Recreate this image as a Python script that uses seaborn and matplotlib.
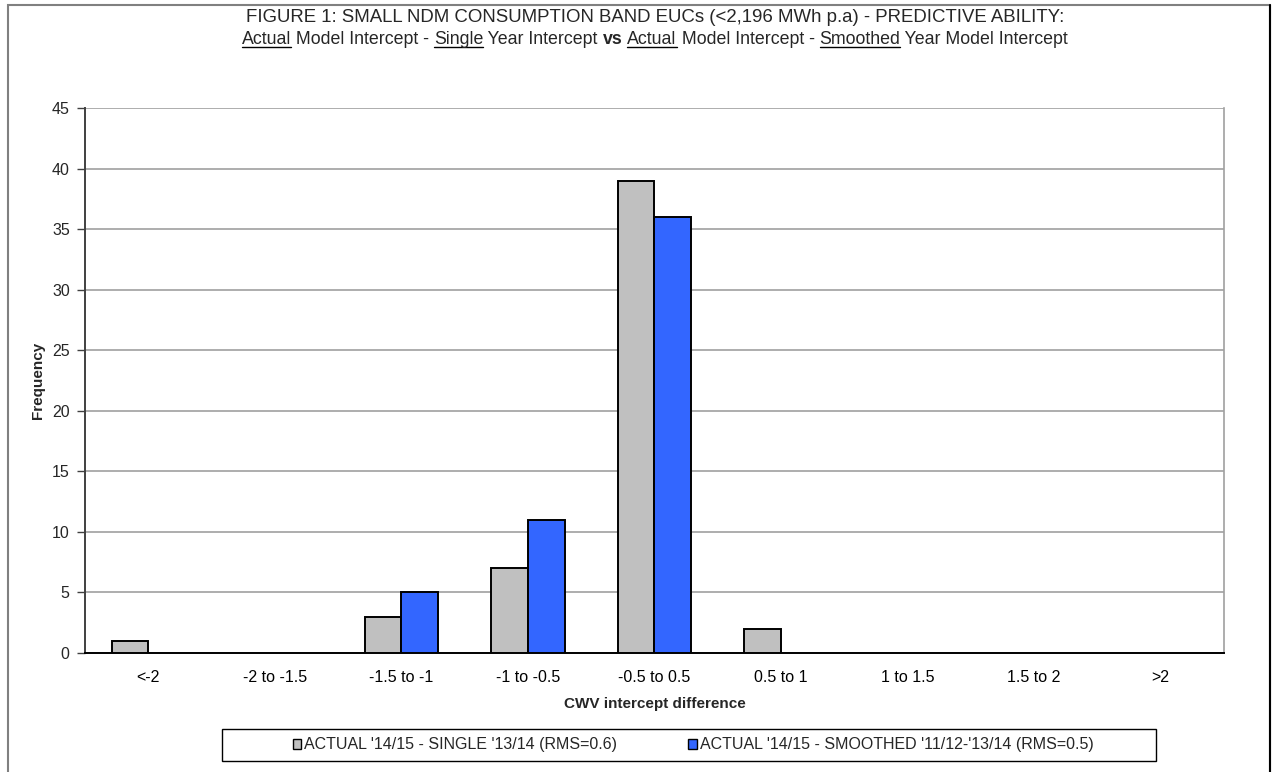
import matplotlib
matplotlib.use("Agg")
import matplotlib.pyplot as plt
from matplotlib.lines import Line2D
from matplotlib.patches import Rectangle
import seaborn as sns
import pandas as pd

categories = ["<-2", "-2 to -1.5", "-1.5 to -1", "-1 to -0.5", "-0.5 to 0.5",
              "0.5 to 1", "1 to 1.5", "1.5 to 2", ">2"]
single_year = [1, 0, 3, 7, 39, 2, 0, 0, 0]
smoothed_year = [0, 0, 5, 11, 36, 0, 0, 0, 0]
series_names = ["ACTUAL '14/15 - SINGLE '13/14 (RMS=0.6)",
                "ACTUAL '14/15 - SMOOTHED '11/12-'13/14 (RMS=0.5)"]
series_colors = ["#C0C0C0", "#3366FF"]
y_ticks = list(range(0, 50, 5))

sns.set_theme(style="white")
plt.rcParams["font.family"] = ["Liberation Sans", "DejaVu Sans"]

df = pd.DataFrame({
    "band": categories * 2,
    "freq": single_year + smoothed_year,
    "series": [series_names[0]] * len(categories) + [series_names[1]] * len(categories),
})

W, H = 1276, 772
fig = plt.figure(figsize=(W / 100, H / 100), dpi=100)
ax = fig.add_axes([85 / W, 1 - 653 / H, (1224 - 85) / W, (653 - 108) / H])

sns.barplot(data=df, x="band", y="freq", hue="series", order=categories,
            hue_order=series_names, palette=series_colors, saturation=1, width=0.58,
            edgecolor="black", linewidth=1.4, ax=ax, legend=False, zorder=3)

# hide zero-height bars so they do not leave a stroke on the axis
for p in ax.patches:
    if p.get_height() == 0:
        p.set_visible(False)

ax.set_ylim(0, 45)
ax.set_xlim(-0.5, len(categories) - 0.5)
ax.set_yticks(y_ticks)
ax.yaxis.grid(True, color="#a0a0a0", linewidth=1.2, zorder=0)
ax.set_axisbelow(True)

ax.set_xticks(range(len(categories)))
ax.set_xticklabels(categories)
ax.set_xticks([i - 0.5 for i in range(len(categories) + 1)], minor=True)
ax.tick_params(axis="x", which="major", length=0, pad=12, labelsize=11.5, colors="black")
ax.tick_params(axis="x", which="minor", length=6, width=1, color="black", direction="out")
ax.tick_params(axis="y", which="major", length=6, width=1, color="#404040",
               labelsize=11.5, pad=5, direction="out", left=True)

for side in ["left", "bottom"]:
    ax.spines[side].set_visible(True)
    ax.spines[side].set_linewidth(1.4)
ax.spines["left"].set_color("#404040")
ax.spines["bottom"].set_color("black")
ax.spines["top"].set_visible(False)
ax.spines["right"].set_color("#a0a0a0")
ax.spines["right"].set_linewidth(1.2)

ax.set_xlabel("CWV intercept difference", fontsize=11, fontweight="bold", labelpad=9)
ax.set_ylabel("Frequency", fontsize=11, fontweight="bold", labelpad=5)

# legend along the bottom, with its own box
handles = [Rectangle((0, 0), 1, 1, facecolor=c, edgecolor="black", linewidth=1.0)
           for c in series_colors]
fig.legend(handles, series_names, loc="center", ncol=2,
           bbox_to_anchor=(693 / W, 1 - 745 / H), frameon=False,
           fontsize=11.5, handlelength=0.55, handleheight=0.55, handletextpad=0.2,
           columnspacing=4.4, borderpad=0.2)
fig.add_artist(Rectangle((222 / W, 1 - 761 / H), (1156 - 222) / W, 32 / H,
                         transform=fig.transFigure, fill=False,
                         edgecolor="black", linewidth=1.0))

# outer chart border
fig.add_artist(Rectangle((8 / W, -0.05), (1270 - 8) / W, 1.05 - 5 / H,
                         transform=fig.transFigure, fill=False,
                         edgecolor="#808080", linewidth=1.5))
fig.add_artist(Line2D([1270 / W, 1270 / W], [-0.05, 1 - 5 / H],
                      transform=fig.transFigure, color="black", linewidth=1.5))

# title, first line
fig.text(655 / W, 1 - 17 / H,
         "FIGURE 1: SMALL NDM CONSUMPTION BAND EUCs (<2,196 MWh p.a) - PREDICTIVE ABILITY:",
         ha="center", va="center", fontsize=13.4)

# title, second line built from pieces with underlines and bold
pieces = [
    ("Actual", "normal", True), (" Model Intercept - ", "normal", False),
    ("Single", "normal", True), (" Year Intercept ", "normal", False),
    ("vs", "bold", False), (" ", "normal", False),
    ("Actual", "normal", True), (" Model Intercept - ", "normal", False),
    ("Smoothed", "normal", True), (" Year Model Intercept", "normal", False),
]
fig.canvas.draw()
renderer = fig.canvas.get_renderer()
texts = []
widths = []
for s, w, u in pieces:
    t = fig.text(0, 0, s, fontsize=12.8, fontweight=w, va="baseline", ha="left")
    bb = t.get_window_extent(renderer)
    texts.append(t)
    widths.append(bb.width)
total = sum(widths)
x0 = 655 - total / 2
base_y = 44
for (s, w, u), t, wd in zip(pieces, texts, widths):
    t.set_position((x0 / W, 1 - base_y / H))
    if u:
        fig.add_artist(Line2D([x0 / W, (x0 + wd) / W],
                              [1 - (base_y + 2.5) / H, 1 - (base_y + 2.5) / H],
                              transform=fig.transFigure, color="black", linewidth=1.0))
    x0 += wd

fig.savefig("out.png", dpi=100)
